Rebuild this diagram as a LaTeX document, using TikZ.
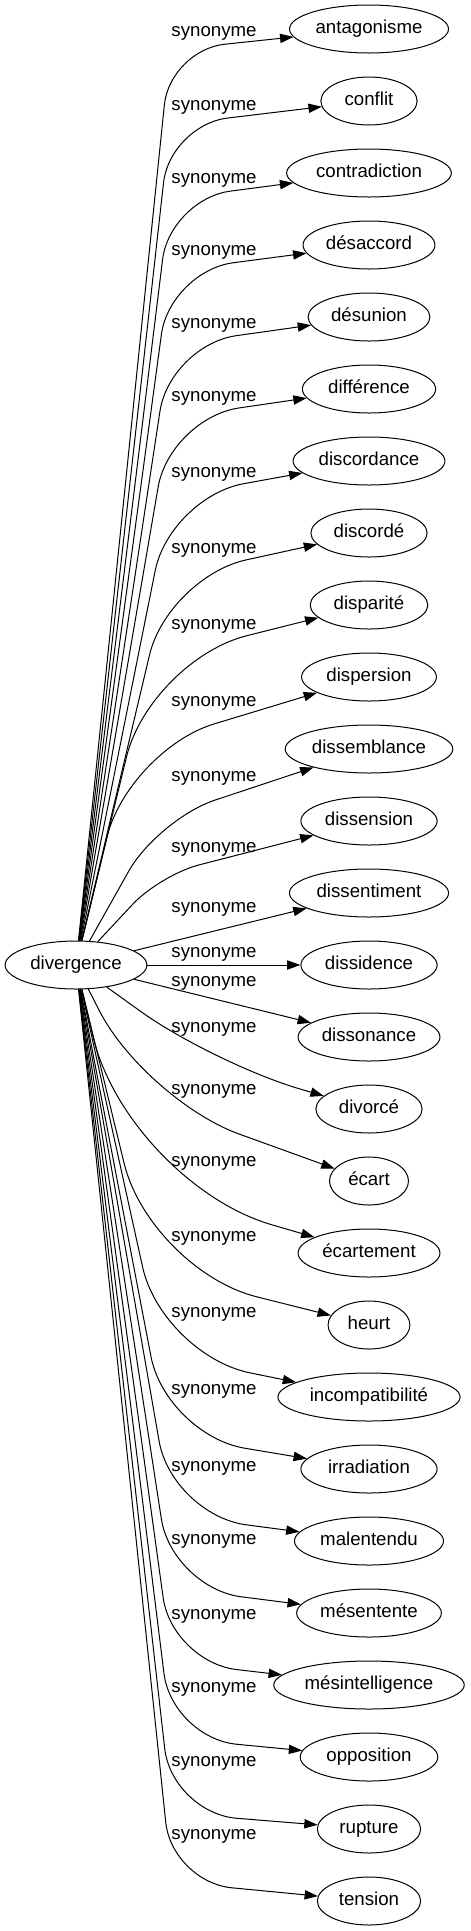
\documentclass[tikz,border=0pt]{standalone}
\usepackage{fontspec}
\setmainfont{Liberation Sans}
\usetikzlibrary{arrows.meta,shapes.geometric}

\begin{document}
\begin{tikzpicture}[x=1pt,y=-1pt,
  every node/.style={font=\fontsize{18.67}{22}\selectfont,text height=13.4pt,text depth=3.7pt},
  word/.style={draw,ellipse,line width=1pt,inner sep=0pt,minimum height=48pt},
  syn/.style={draw,line width=1pt,-{Triangle[length=13.3pt,width=9.3pt]}},
  tag/.style={inner sep=0pt}]
\useasboundingbox (0,0) rectangle (471,1931);
\node[word,minimum width=141.8pt] (div) at (76,965) {divergence};
\node[word,minimum width=159pt] (antagonisme) at (369,29) {antagonisme};
\node[word,minimum width=96.2pt] (conflit) at (369,101) {conflit};
\node[word,minimum width=164.7pt] (contradiction) at (369,173) {contradiction};
\node[word,minimum width=131.9pt] (desaccord) at (369,245) {désaccord};
\node[word,minimum width=121.9pt] (desunion) at (369,317) {désunion};
\node[word,minimum width=133.3pt] (difference) at (369,389) {différence};
\node[word,minimum width=151.9pt] (discordance) at (369,461) {discordance};
\node[word,minimum width=116.2pt] (discorde) at (369,533) {discordé};
\node[word,minimum width=117.6pt] (disparite) at (369,605) {disparité};
\node[word,minimum width=134.8pt] (dispersion) at (369,677) {dispersion};
\node[word,minimum width=167.6pt] (dissemblance) at (369,749) {dissemblance};
\node[word,minimum width=136.2pt] (dissension) at (369,821) {dissension};
\node[word,minimum width=159.1pt] (dissentiment) at (369,893) {dissentiment};
\node[word,minimum width=136.2pt] (dissidence) at (369,965) {dissidence};
\node[word,minimum width=141.9pt] (dissonance) at (369,1037) {dissonance};
\node[word,minimum width=106.2pt] (divorce) at (369,1109) {divorcé};
\node[word,minimum width=79pt] (ecart) at (369,1181) {écart};
\node[word,minimum width=141.9pt] (ecartement) at (369,1253) {écartement};
\node[word,minimum width=81.9pt] (heurt) at (369,1325) {heurt};
\node[word,minimum width=182.2pt] (incompatibilite) at (369,1397) {incompatibilité};
\node[word,minimum width=136.2pt] (irradiation) at (369,1469) {irradiation};
\node[word,minimum width=149pt] (malentendu) at (369,1541) {malentendu};
\node[word,minimum width=144.7pt] (mesentente) at (369,1613) {mésentente};
\node[word,minimum width=190.5pt] (mesintelligence) at (369,1685) {mésintelligence};
\node[word,minimum width=137.6pt] (opposition) at (369,1757) {opposition};
\node[word,minimum width=103.3pt] (rupture) at (369,1829) {rupture};
\node[word,minimum width=103.3pt] (tension) at (369,1901) {tension};
\node[tag] (s1) at (214,32) {synonyme};
\node[tag] (s2) at (214,106) {synonyme};
\node[tag] (s3) at (214,179) {synonyme};
\node[tag] (s4) at (214,251) {synonyme};
\node[tag] (s5) at (214,324) {synonyme};
\node[tag] (s6) at (214,397) {synonyme};
\node[tag] (s7) at (214,473) {synonyme};
\node[tag] (s8) at (214,549) {synonyme};
\node[tag] (s9) at (214,625) {synonyme};
\node[tag] (s10) at (214,702) {synonyme};
\node[tag] (s11) at (214,777) {synonyme};
\node[tag] (s12) at (214,848) {synonyme};
\node[tag] (s13) at (214,908) {synonyme};
\node[tag] (s14) at (214,953) {synonyme};
\node[tag] (s15) at (214,982) {synonyme};
\node[tag] (s16) at (214,1028) {synonyme};
\node[tag] (s17) at (214,1090) {synonyme};
\node[tag] (s18) at (214,1162) {synonyme};
\node[tag] (s19) at (214,1237) {synonyme};
\node[tag] (s20) at (214,1313) {synonyme};
\node[tag] (s21) at (214,1390) {synonyme};
\node[tag] (s22) at (214,1467) {synonyme};
\node[tag] (s23) at (214,1540) {synonyme};
\node[tag] (s24) at (214,1615) {synonyme};
\node[tag] (s25) at (214,1688) {synonyme};
\node[tag] (s26) at (214,1762) {synonyme};
\node[tag] (s27) at (214,1835) {synonyme};
\draw[syn,rounded corners=55pt] (div) -- (170,50) -- (antagonisme);
\draw[syn,rounded corners=58pt] (div) -- (170,125) -- (conflit);
\draw[syn,rounded corners=61pt] (div) -- (170,199) -- (contradiction);
\draw[syn,rounded corners=64pt] (div) -- (170,271) -- (desaccord);
\draw[syn,rounded corners=67pt] (div) -- (170,345) -- (desunion);
\draw[syn,rounded corners=70pt] (div) -- (170,418) -- (difference);
\draw[syn,rounded corners=75pt] (div) -- (170,497) -- (discordance);
\draw[syn,rounded corners=80pt] (div) -- (168,577) -- (discorde);
\draw[syn,rounded corners=100pt] (div) -- (150,660) -- (disparite);
\draw[syn,rounded corners=90pt] (div) -- (128,750) -- (dispersion);
\draw[syn,rounded corners=60pt] (div) -- (158,819) -- (dissemblance);
\draw[syn,rounded corners=40pt] (div) -- (160,875) -- (dissension);
\draw[syn] (div) -- (dissentiment);
\draw[syn] (div) -- (dissidence);
\draw[syn] (div) -- (dissonance);
\draw[syn,rounded corners=90pt] (div) -- (214,1064) -- (divorce);
\draw[syn,rounded corners=100pt] (div) -- (145,1100) -- (ecart);
\draw[syn,rounded corners=150pt] (div) -- (128,1183) -- (ecartement);
\draw[syn,rounded corners=110pt] (div) -- (150,1270) -- (heurt);
\draw[syn,rounded corners=90pt] (div) -- (162,1355) -- (incompatibilite);
\draw[syn,rounded corners=80pt] (div) -- (166,1435) -- (irradiation);
\draw[syn,rounded corners=75pt] (div) -- (172,1515) -- (malentendu);
\draw[syn,rounded corners=70pt] (div) -- (172,1588) -- (mesentente);
\draw[syn,rounded corners=65pt] (div) -- (172,1662) -- (mesintelligence);
\draw[syn,rounded corners=65pt] (div) -- (172,1738) -- (opposition);
\draw[syn,rounded corners=65pt] (div) -- (172,1813) -- (rupture);
\draw[syn,rounded corners=60pt] (div) -- (172,1882) -- (tension);
\end{tikzpicture}
\end{document}
